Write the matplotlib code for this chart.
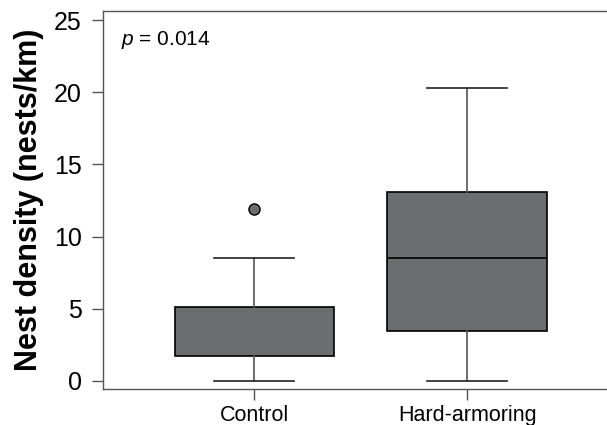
import matplotlib
matplotlib.use("Agg")
import matplotlib.pyplot as plt

plt.rcParams['font.family'] = ['Liberation Sans', 'DejaVu Sans']
plt.rcParams['mathtext.fontset'] = 'custom'
plt.rcParams['mathtext.it'] = 'Liberation Sans:italic'
plt.rcParams['mathtext.rm'] = 'Liberation Sans'

# Box summary values (nests/km)
groups = ['Control', 'Hard-armoring']
q1 = [1.74, 3.45]
median = [1.74, 8.5]
q3 = [5.13, 13.1]
whisker_lo = [0.0, 0.0]
whisker_hi = [8.5, 20.3]
outliers = [[11.92], []]
p_text = '$\\it{p}$ = 0.014'

stats = []
for i, name in enumerate(groups):
    stats.append({'label': name, 'q1': q1[i], 'med': median[i], 'q3': q3[i],
                  'whislo': whisker_lo[i], 'whishi': whisker_hi[i],
                  'fliers': outliers[i]})

fig = plt.figure(figsize=(6.07, 4.25), dpi=100)
ax = fig.add_axes([0.169, 0.084, 0.831, 0.891])

box_color = '#6c6d6f'
spine_color = '#555555'
bp = ax.bxp(stats, positions=[1, 2], widths=0.75, patch_artist=True,
            boxprops=dict(facecolor=box_color, edgecolor='black', linewidth=1.2),
            medianprops=dict(color='black', linewidth=1.2),
            whiskerprops=dict(color='#555555', linewidth=1.2),
            capprops=dict(color='#222222', linewidth=1.2),
            capwidths=0.375,
            flierprops=dict(marker='o', markerfacecolor=box_color,
                            markeredgecolor='black', markersize=8,
                            markeredgewidth=1.0))
# control median sits on the lower hinge and is not drawn separately
bp['medians'][0].set_visible(False)

ax.set_xlim(0.287, 2.656)
ax.set_ylim(-0.58, 25.66)
ax.set_yticks([0, 5, 10, 15, 20, 25])
ax.set_xticks([1, 2])
ax.set_xticklabels(groups)

for side in ['left', 'top', 'bottom']:
    ax.spines[side].set_color(spine_color)
    ax.spines[side].set_linewidth(1.0)
ax.spines['right'].set_visible(False)

ax.tick_params(axis='y', labelsize=18, length=8, width=1.0, color=spine_color, pad=7)
ax.tick_params(axis='x', labelsize=15.5, length=8, width=1.0, color=spine_color, pad=3)

ax.set_ylabel('Nest density (nests/km)', fontsize=22, fontweight='bold', labelpad=7)
ax.text(0.036, 0.922, p_text, transform=ax.transAxes, fontsize=15, va='center')

fig.savefig('out.png', dpi=100)
